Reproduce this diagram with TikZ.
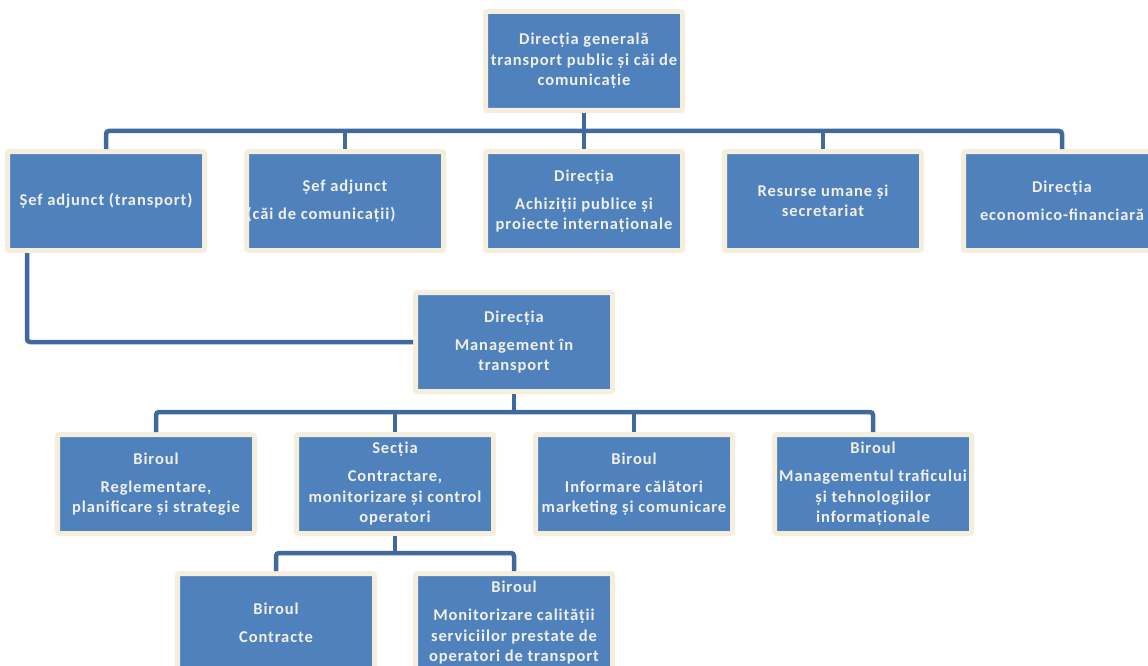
\documentclass[tikz,border=0pt]{standalone}
\usepackage{fontspec}
\setmainfont{Carlito}[LetterSpace=5.5]
\usetikzlibrary{positioning}

\definecolor{boxblue}{RGB}{79,129,189}
\definecolor{boxrim}{RGB}{245,238,220}
\definecolor{linkblue}{RGB}{64,106,158}
\definecolor{boxtext}{RGB}{240,240,232}

\begin{document}
\begin{tikzpicture}[x=1pt, y=-1pt, node distance=239pt]
            \tikzstyle{unit} = [rectangle, draw=boxrim, line width=5pt, fill=boxblue, text=boxtext, align=center, inner sep=0pt, minimum width=197pt, minimum height=99pt, rounded corners=2pt, font=\fontsize{16.5}{20.5}\selectfont\bfseries]
            \tikzstyle{link} = [draw=linkblue, line width=4.5pt, rounded corners=3pt]

            \useasboundingbox (0,0) rectangle (1148,666);

            \node (dg) [unit] at (584,61) {Direcția generală\\transport public și căi de\\comunicație};
            \node (achiz) [unit, node distance=140pt, below of=dg] {Direcția\\[7.5pt]Achiziții publice și\\proiecte internaționale};
            \node (sefC) [unit, left of=achiz] {Șef adjunct\\[7.5pt]\hspace*{-48pt}(căi de comunicații)};
            \node (sefT) [unit, left of=sefC] {Șef adjunct (transport)};
            \node (resurse) [unit, right of=achiz] {Resurse umane și\\secretariat};
            \node (ecf) [unit, right of=resurse] {Direcția\\[7.5pt]economico-financiară};

            \node (mgmt) [unit] at (514,342) {Direcția\\[7.5pt]Management în\\transport};
            \node (sec) [unit] at (395,484) {Secția\\[7.5pt]Contractare,\\monitorizare și control\\operatori};
            \node (regl) [unit, left of=sec] {Biroul\\[7.5pt]Reglementare,\\planificare și strategie};
            \node (info) [unit, right of=sec] {Biroul\\[7.5pt]Informare călători\\marketing și comunicare};
            \node (trafic) [unit, right of=info] {Biroul\\[7.5pt]Managementul traficului\\și tehnologiilor\\informaționale};

            \node (monit) [unit] at (514,623) {Biroul\\[7.5pt]Monitorizare calității\\serviciilor prestate de\\operatori de transport};
            \node (contr) [unit, node distance=238pt, left of=monit] {Biroul\\[7.5pt]Contracte};

            \draw [link] (dg.south) -- ++(0,18);
            \draw [link] (sefT.north) -- ++(0,-18) -| (ecf.north);
            \foreach \n in {sefC, achiz, resurse} \draw [link] (\n.north) -- ++(0,-18);
            \draw [link] ([xshift=22pt]sefT.south west) |- (mgmt.west);

            \draw [link] (mgmt.south) -- ++(0,18);
            \draw [link] (regl.north) -- ++(0,-20) -| (trafic.north);
            \foreach \n in {sec, info} \draw [link] (\n.north) -- ++(0,-20);

            \draw [link] (sec.south) -- ++(0,17);
            \draw [link] (contr.north) -- ++(0,-18) -| (monit.north);
        \end{tikzpicture}
\end{document}
